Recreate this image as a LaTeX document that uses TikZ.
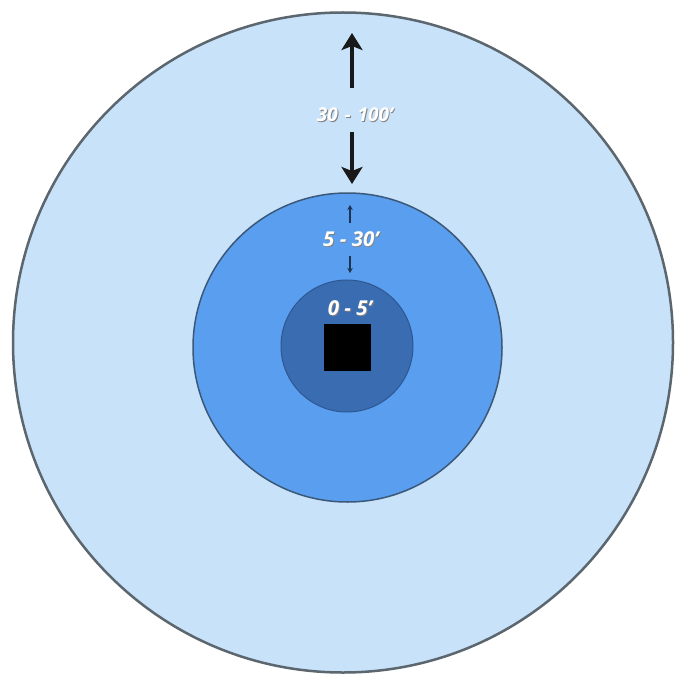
\documentclass[tikz,border=0pt]{standalone}
\usepackage{fontspec}
\setmainfont{Open Sans}
\usetikzlibrary{arrows.meta, positioning}

\definecolor{zoneout}{HTML}{C8E2FA}
\definecolor{zonemid}{HTML}{5A9EF0}
\definecolor{zonein}{HTML}{3A6CB2}
\definecolor{rimout}{HTML}{5C666E}
\definecolor{rimmid}{HTML}{3B5878}
\definecolor{rimin}{HTML}{2E5790}
\definecolor{arrowdark}{HTML}{1E3350}

% white label text with a soft grey shadow
\newcommand{\shtext}[1]{\rlap{\kern0.9pt\raisebox{-0.9pt}{\textcolor{black!50}{#1}}}#1}

\begin{document}
\begin{tikzpicture}[
    x=1pt, y=-1pt,
    zone/.style={circle, draw, inner sep=0pt},
    rangelabel/.style={text=white, inner sep=1pt, font=\bfseries\itshape\fontsize{20.5}{21}\selectfont},
    bigarrow/.style={-{Stealth[length=17pt, width=21pt, inset=4pt]}, line width=3.3pt, draw=black!90},
    tinyarrow/.style={-{Stealth[length=5pt, width=5.5pt]}, line width=1.5pt, draw=arrowdark}
]
    \useasboundingbox[fill=white] (0,0) rectangle (676,679);

    % zones
    \node[zone, minimum size=660pt, fill=zoneout, draw=rimout, line width=2.5pt] (outer) at (343,342.5) {};
    \node[zone, minimum size=309pt, fill=zonemid, draw=rimmid, line width=1.5pt] (middle) at (347.5,347.5) {};
    \node[zone, minimum size=132pt, fill=zonein, draw=rimin, line width=1pt] (inner) at (347,346) {};
    \node[fill=black, minimum size=47pt, inner sep=0pt] (core) at (347.5,347.5) {};

    % labels
    \node[rangelabel, font=\bfseries\itshape\fontsize{19}{19}\selectfont] (lbl100) at (355,115) {\shtext{30\hspace{0.1em} - \hspace{0.1em}100'}};
    \node[rangelabel] (lbl30) at (351,240) {\shtext{5 - 30'}};
    \node[rangelabel] (lbl5) at (350,309) {\shtext{0 - 5'}};

    % arrow ends
    \coordinate (start100up) at (352,88);
    \coordinate (top100) at (352,33);
    \coordinate (start100dn) at (352,132);
    \coordinate (bot100) at (352,184);
    \coordinate (start30up) at (350,223);
    \coordinate (top30) at (350,205);
    \coordinate (start30dn) at (350,256);
    \coordinate (bot30) at (350,273);

    \draw[bigarrow] (start100up) -- (top100);
    \draw[bigarrow] (start100dn) -- (bot100);
    \draw[tinyarrow] (start30up) -- (top30);
    \draw[tinyarrow] (start30dn) -- (bot30);
\end{tikzpicture}
\end{document}
